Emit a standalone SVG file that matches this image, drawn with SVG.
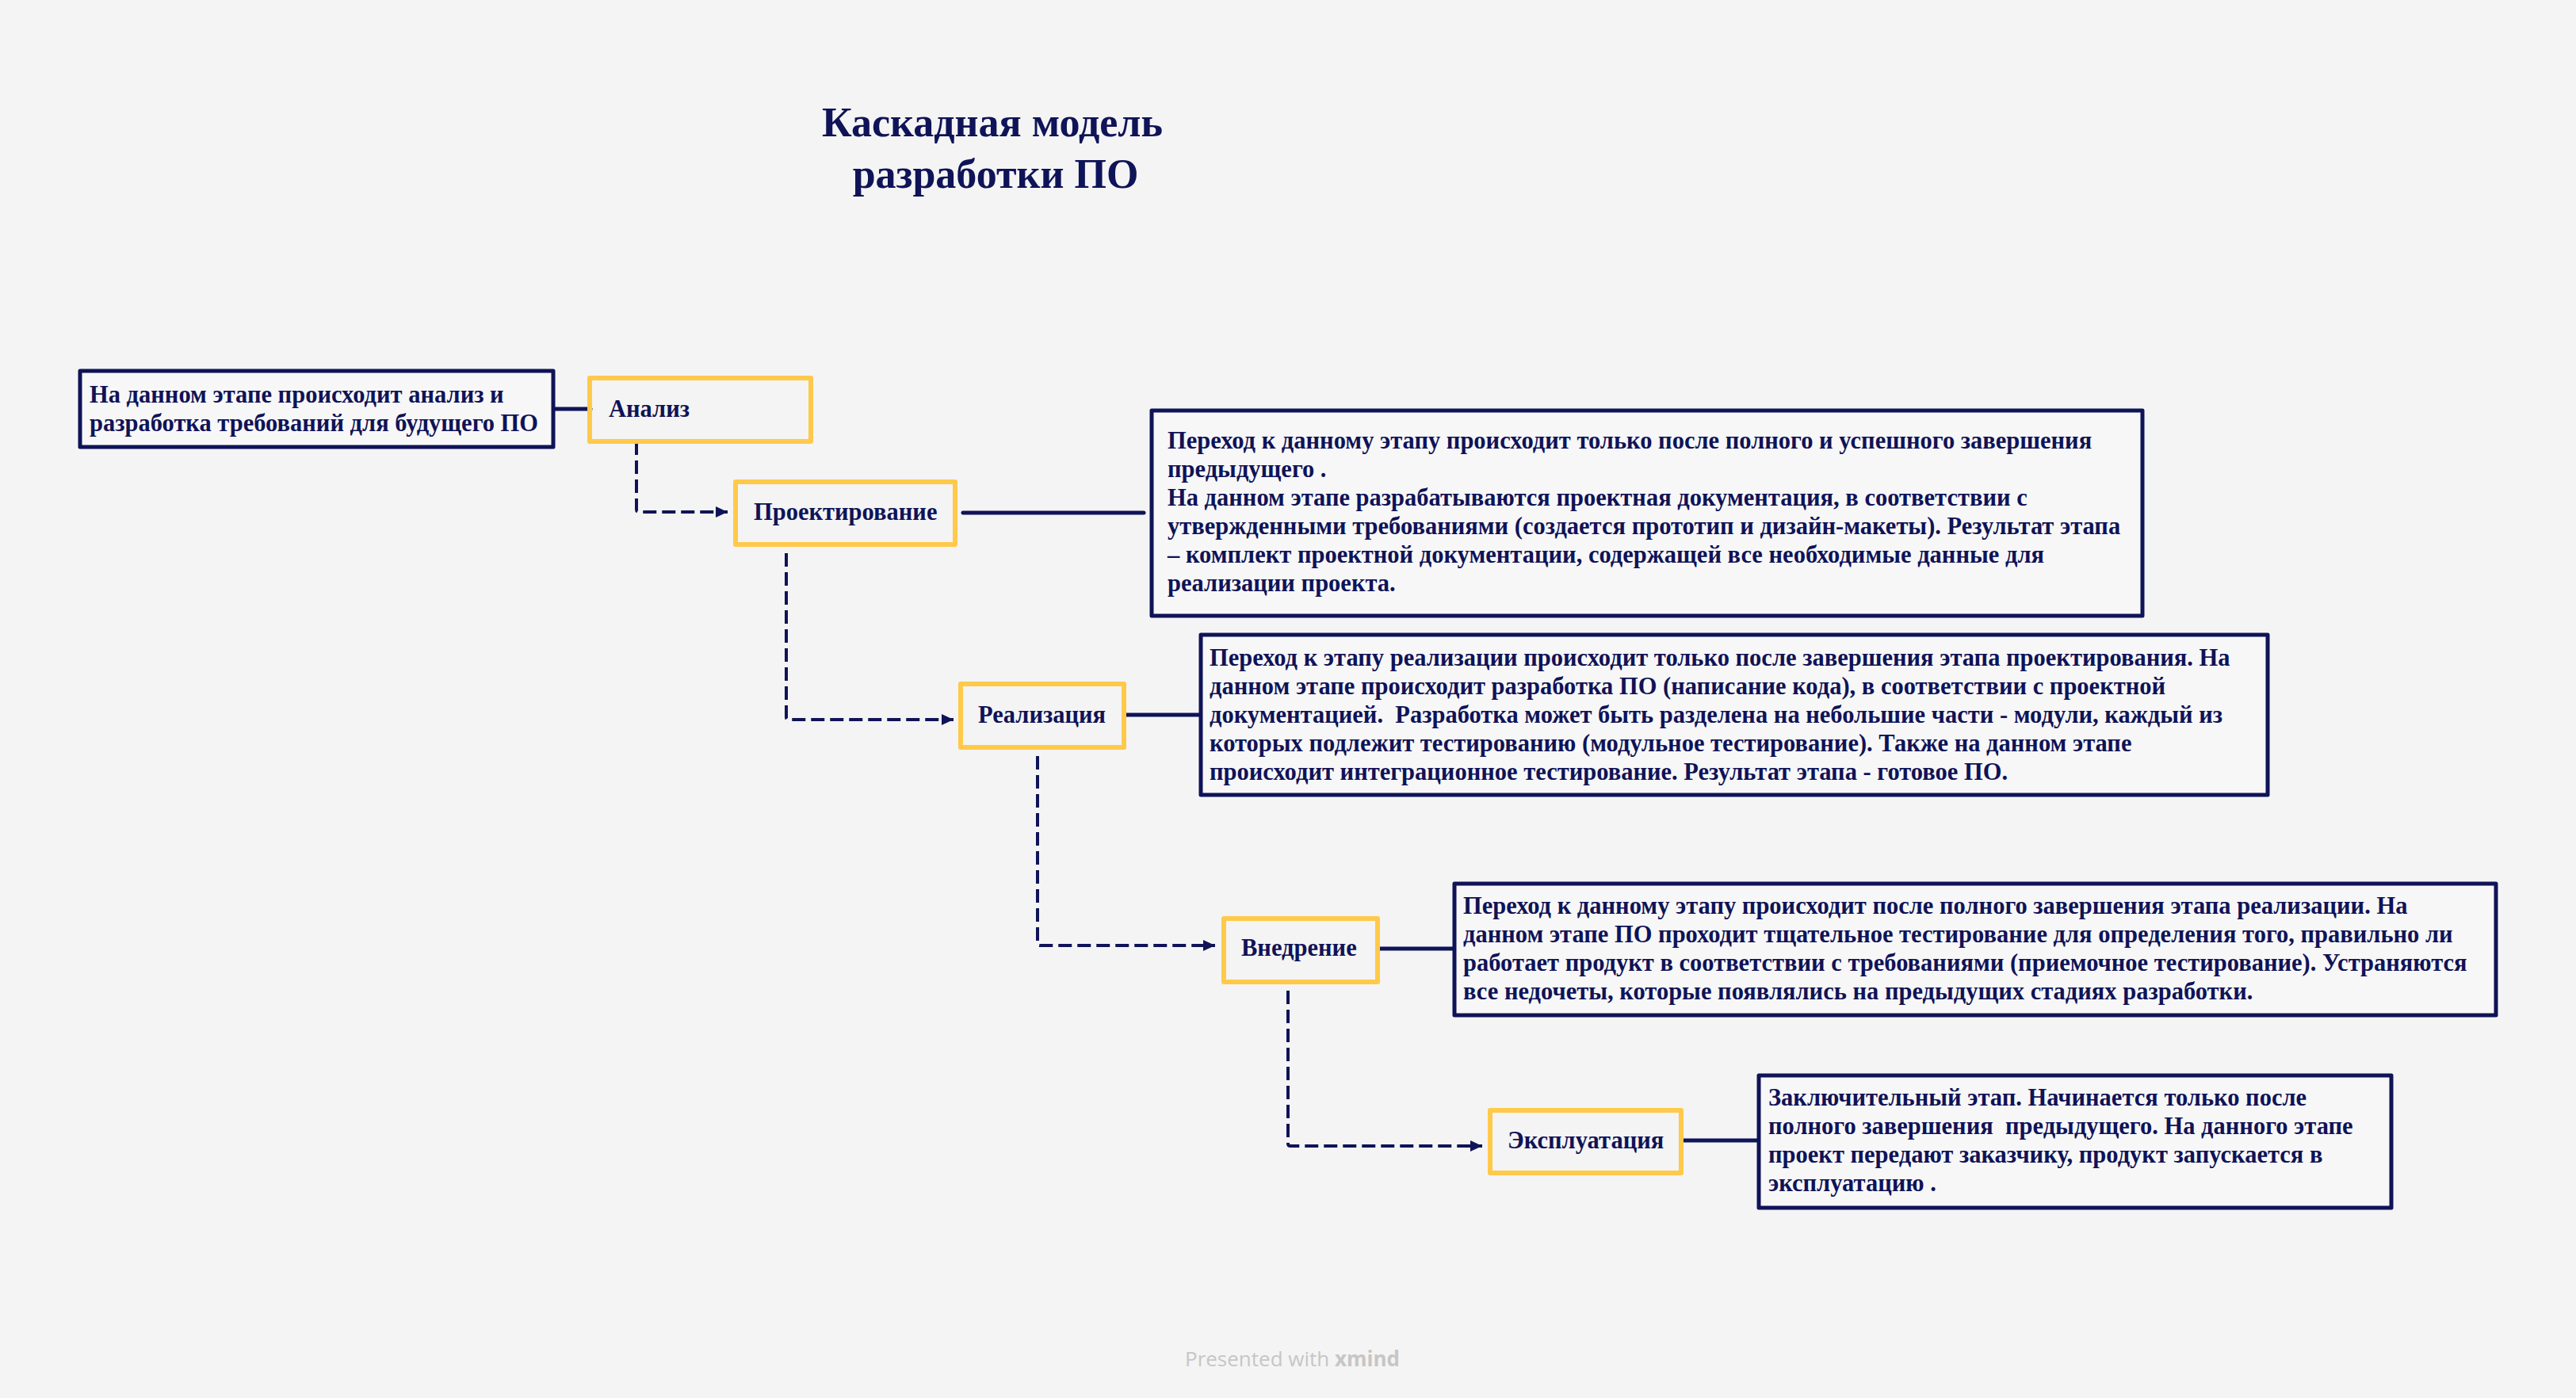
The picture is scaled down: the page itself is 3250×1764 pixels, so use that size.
<svg xmlns="http://www.w3.org/2000/svg" width="3250" height="1764" viewBox="0 0 3250 1764">
<style>
.bg{fill:#f4f4f4}
.t{font-family:"Liberation Serif","Times New Roman",serif;font-weight:bold;fill:#0f1357;font-size:30.5px;white-space:pre}
.title{font-size:52px}
.desc{fill:#f7f7f8;stroke:#0f1357;stroke-width:5;stroke-linejoin:round}
.stage{fill:none;stroke:#ffc94a;stroke-width:6;stroke-linejoin:round}
.solid{fill:none;stroke:#0f1357;stroke-width:5;stroke-linecap:round}
.dash{fill:none;stroke:#0f1357;stroke-width:4;stroke-dasharray:17 7}
.foot{font-family:"Open Sans","Liberation Sans",sans-serif;font-size:26px;fill:#c6c6c6}
</style>
<defs>
<marker id="arr" markerUnits="userSpaceOnUse" markerWidth="16" markerHeight="16" refX="15" refY="7" orient="auto">
<path d="M0,0 L15,7 L0,14 Z" fill="#0f1357"/>
</marker>
</defs>
<rect class="bg" x="0" y="0" width="3250" height="1764"/>

<g id="title">
<text class="t title" x="1252" y="172" text-anchor="middle">Каскадная модель</text>
<text class="t title" x="1256" y="237" text-anchor="middle">разработки ПО</text>
</g>

<g id="connectors">
<path class="solid" d="M698,516 L745,516" stroke-width="6"/>
<path class="solid" d="M1215,647 L1443,647" stroke-width="4"/>
<path class="solid" d="M1420,902 L1515,902" stroke-width="6"/>
<path class="solid" d="M1740,1197 L1835,1197" stroke-width="6"/>
<path class="solid" d="M2123,1439 L2218,1439" stroke-width="6"/>
<path class="dash" d="M803,557 V643 Q803,646 806,646 H918" marker-end="url(#arr)"/>
<path class="dash" d="M992,698 V905 Q992,908 995,908 H1203" marker-end="url(#arr)"/>
<path class="dash" d="M1309,954 V1190 Q1309,1193 1312,1193 H1533" marker-end="url(#arr)"/>
<path class="dash" d="M1625,1250 V1443 Q1625,1446 1628,1446 H1870" marker-end="url(#arr)"/>
</g>

<g id="desc-analysis">
<rect class="desc" x="101" y="468" width="597" height="96"/>
<text class="t" x="113" y="508">На данном этапе происходит анализ и</text>
<text class="t" x="113" y="544">разработка требований для будущего ПО</text>
</g>

<g id="node-analysis">
<rect class="stage" x="744" y="477" width="279" height="80"/>
<text class="t" x="768" y="526">Анализ</text>
</g>

<g id="node-design">
<rect class="stage" x="928" y="608" width="277" height="79"/>
<text class="t" x="951" y="656">Проектирование</text>
</g>

<g id="desc-design">
<rect class="desc" x="1453" y="518" width="1250" height="259"/>
<text class="t" x="1473" y="566">Переход к данному этапу происходит только после полного и успешного завершения</text>
<text class="t" x="1473" y="602">предыдущего .</text>
<text class="t" x="1473" y="638">На данном этапе разрабатываются проектная документация, в соответствии с</text>
<text class="t" x="1473" y="674">утвержденными требованиями (создается прототип и дизайн-макеты). Результат этапа</text>
<text class="t" x="1473" y="710">– комплект проектной документации, содержащей все необходимые данные для</text>
<text class="t" x="1473" y="746">реализации проекта.</text>
</g>

<g id="node-impl">
<rect class="stage" x="1212" y="863" width="206" height="80"/>
<text class="t" x="1234" y="912">Реализация</text>
</g>

<g id="desc-impl">
<rect class="desc" x="1515" y="801" width="1346" height="202"/>
<text class="t" x="1526" y="840">Переход к этапу реализации происходит только после завершения этапа проектирования. На</text>
<text class="t" x="1526" y="876">данном этапе происходит разработка ПО (написание кода), в соответствии с проектной</text>
<text class="t" x="1526" y="912">документацией.  Разработка может быть разделена на небольшие части - модули, каждый из</text>
<text class="t" x="1526" y="948">которых подлежит тестированию (модульное тестирование). Также на данном этапе</text>
<text class="t" x="1526" y="984">происходит интеграционное тестирование. Результат этапа - готовое ПО.</text>
</g>

<g id="node-deploy">
<rect class="stage" x="1544" y="1159" width="194" height="80"/>
<text class="t" x="1566" y="1206">Внедрение</text>
</g>

<g id="desc-deploy">
<rect class="desc" x="1835" y="1115" width="1314" height="166"/>
<text class="t" x="1846" y="1153">Переход к данному этапу происходит после полного завершения этапа реализации. На</text>
<text class="t" x="1846" y="1189">данном этапе ПО проходит тщательное тестирование для определения того, правильно ли</text>
<text class="t" x="1846" y="1225">работает продукт в соответствии с требованиями (приемочное тестирование). Устраняются</text>
<text class="t" x="1846" y="1261">все недочеты, которые появлялись на предыдущих стадиях разработки.</text>
</g>

<g id="node-ops">
<rect class="stage" x="1880" y="1401" width="241" height="79"/>
<text class="t" x="1902" y="1449">Эксплуатация</text>
</g>

<g id="desc-ops">
<rect class="desc" x="2219" y="1357" width="798" height="167"/>
<text class="t" x="2231" y="1395">Заключительный этап. Начинается только после</text>
<text class="t" x="2231" y="1431">полного завершения  предыдущего. На данного этапе</text>
<text class="t" x="2231" y="1467">проект передают заказчику, продукт запускается в</text>
<text class="t" x="2231" y="1503">эксплуатацию .</text>
</g>

<g id="footer">
<text class="foot" x="1495" y="1724">Presented with <tspan font-weight="bold">xmind</tspan></text>
</g>
</svg>
